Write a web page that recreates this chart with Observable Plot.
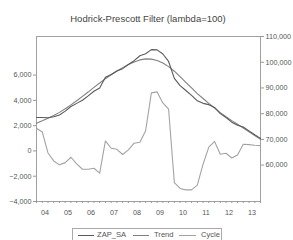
<!DOCTYPE html>
<html><head><meta charset="utf-8">
<script src="https://cdn.jsdelivr.net/npm/d3@7"></script>
<script src="https://cdn.jsdelivr.net/npm/@observablehq/plot@0.6"></script>
<style>
body{margin:0;background:#fff;font-family:"Liberation Sans",Arial,sans-serif;}
#wrap{position:relative;width:293px;height:240px;overflow:hidden;}
#title{position:absolute;left:0;width:296px;top:12.5px;text-align:center;font-size:9.5px;color:#444;line-height:11px;}
#legend{position:absolute;left:72px;top:228px;width:150px;height:14px;border:1px solid #aaa;box-sizing:border-box;font-size:7.6px;color:#555;}
.sw{position:absolute;top:5.5px;height:0;border-top:1px solid #666;}
.lt{position:absolute;top:1px;line-height:9px;}
</style>
</head><body>
<div id="wrap">
  <div id="chart"></div>
  <div id="title">Hodrick-Prescott Filter (lambda=100)</div>
  <div id="legend"></div>
</div>
<script>
// quarterly observations 2004Q1 .. 2013Q4
const years = ["04","05","06","07","08","09","10","11","12","13"];
const seriesNames = ["ZAP_SA", "Trend", "Cycle"];
const zapSA = [78500,78500,78400,78800,79500,81000,82800,84000,85200,86900,88700,90000,94200,95200,96600,97500,99100,100600,102500,103300,104900,104800,103200,100300,93700,90900,89000,87100,85000,84000,83500,82400,80000,78500,76700,75500,74800,73300,71800,70400];
const trend = [76300,77200,78200,79300,80500,81900,83400,85000,86700,88400,90200,91900,93600,95100,96600,97900,99100,100100,100900,101300,101200,100700,99700,98300,96500,94400,92200,90000,87800,85900,84000,82200,80400,78800,77300,75900,74400,72950,71500,70000];
const cycle = [1800,1500,-160,-790,-1100,-925,-500,-1030,-1450,-1450,-1370,-1760,790,210,130,-280,80,610,690,1600,4590,4670,3800,3300,-2500,-2970,-3080,-3080,-2700,-1050,300,750,-260,-180,-560,-320,530,500,450,420];
const leftTicks = [-4000,-2000,0,2000,4000,6000];
const rightTicks = [60000,70000,80000,90000,100000,110000];

const leftDomain = [-4000, 9053];
const rightDomain = [45848, 110000];
const toLeft = v => leftDomain[0] + (v - rightDomain[0]) / (rightDomain[1] - rightDomain[0]) * (leftDomain[1] - leftDomain[0]);
const fromLeft = v => rightDomain[0] + (v - leftDomain[0]) / (leftDomain[1] - leftDomain[0]) * (rightDomain[1] - rightDomain[0]);

const rows = zapSA.map((z, i) => ({i, zap: z, trend: trend[i], cycle: cycle[i]}));
const quarterIdx = rows.map(d => d.i);
const yearPos = years.map((y, k) => k * 4 + 1.5);
const colors = {ZAP_SA: "#5a5a5a", Trend: "#808080", Cycle: "#a3a3a3"};
const fmt = d3.format(",");

const chart = Plot.plot({
  width: 293, height: 240,
  marginLeft: 36, marginRight: 33, marginTop: 36, marginBottom: 39,
  style: {fontFamily: "Liberation Sans, Arial, sans-serif", fontSize: "7.2px", color: "#555", background: "#fff"},
  x: {domain: [0, 39]},
  y: {domain: leftDomain},
  marks: [
    Plot.frame({stroke: "#a0a0a0"}),
    Plot.axisY({anchor: "left", ticks: leftTicks, tickFormat: fmt, tickSize: 3, tickPadding: 2, label: null, stroke: "#999"}),
    Plot.axisY({anchor: "right", ticks: rightTicks.map(toLeft), tickFormat: d => fmt(Math.round(fromLeft(d) / 1000) * 1000), tickSize: 3, tickPadding: 2, label: null, stroke: "#999"}),
    Plot.axisX({ticks: quarterIdx, tickSize: 2, tickFormat: () => "", label: null, stroke: "#999"}),
    Plot.axisX({ticks: yearPos, tickSize: 0, tickPadding: 8, tickFormat: (d, k) => years[k], label: null}),
    Plot.line(rows, {x: "i", y: d => d.cycle, stroke: colors.Cycle, strokeWidth: 1.1}),
    Plot.line(rows, {x: "i", y: d => toLeft(d.trend), stroke: colors.Trend, strokeWidth: 1.1}),
    Plot.line(rows, {x: "i", y: d => toLeft(d.zap), stroke: colors.ZAP_SA, strokeWidth: 1.1})
  ]
});
document.getElementById("chart").appendChild(chart);

const legend = document.getElementById("legend");
const swX = [4.7, 59.7, 106];
const txX = [24, 81, 128];
seriesNames.forEach((name, k) => {
  const s = document.createElement("div");
  s.className = "sw";
  s.style.left = swX[k] + "px";
  s.style.width = "16.6px";
  s.style.borderTopColor = colors[name];
  legend.appendChild(s);
  const t = document.createElement("div");
  t.className = "lt";
  t.style.left = txX[k] + "px";
  t.textContent = name;
  legend.appendChild(t);
});
</script>
</body></html>
